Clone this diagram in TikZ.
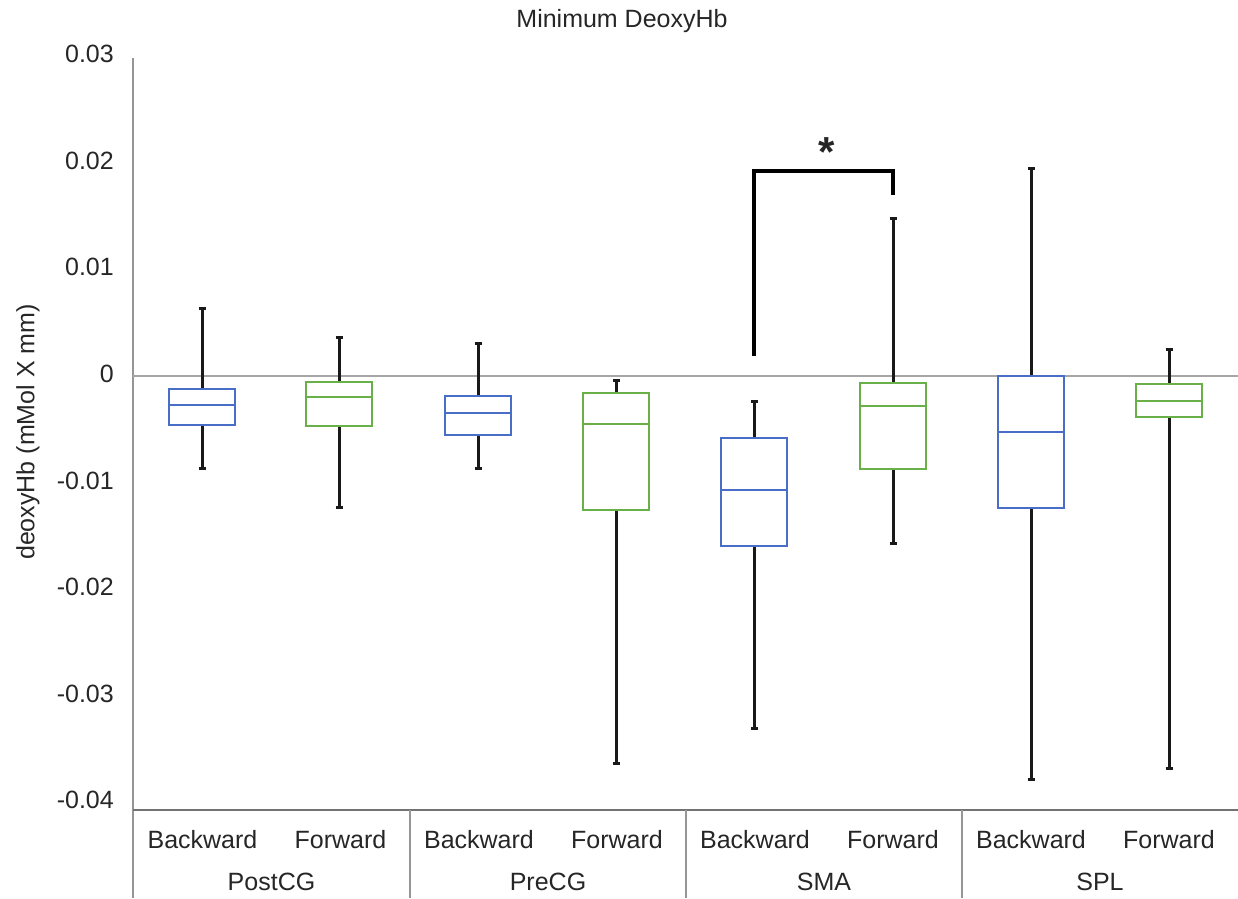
\documentclass[tikz,border=0pt]{standalone}
\usepackage{fontspec}
\setmainfont{Liberation Sans}
\definecolor{backblue}{RGB}{72,110,200}
\definecolor{forgreen}{RGB}{106,176,72}
\definecolor{axisgray}{RGB}{150,150,150}
\tikzset{
  lbl/.style={font=\fontsize{25}{29}\selectfont,inner sep=0pt,text=black!85},
  whisk/.style={line width=3pt,black!90},
  qbox/.style={line width=2.2pt,fill=white},
  axisline/.style={line width=1.5pt,axisgray},
}
\begin{document}
\begin{tikzpicture}[x=1pt,y=-1pt]
\useasboundingbox (0,0) rectangle (1238,898);
% title and axis label
\node[lbl,anchor=base] (title) at (622,27) {Minimum DeoxyHb};
\node[lbl,rotate=90] (ylab) at (28,432) {deoxyHb (mMol X mm)};
% axes
\draw[axisline] (133,58) -- (133,898);
\draw[axisline,line width=2.5pt,black!35] (133,376) -- (1238,376);
\draw[axisline,black!55] (133,810) -- (1238,810);
\foreach \dx in {410,686,962}
  \draw[axisline] (\dx,810) -- (\dx,898);
\foreach \v [count=\i from 0] in {0.03,0.02,0.01,0,-0.01,-0.02,-0.03,-0.04}
  \node[lbl,anchor=east] (tick\i) at (114,54+106.6*\i) {\v};
% boxes: centre / whisker top / box top / median / box bottom / whisker bottom / colour
\foreach \x/\wt/\qt/\md/\qb/\wb/\c in {
    202/308/389/405/425/468/backblue,
    339/337/382/397/426/507/forgreen,
    478/343/396/413/435/468/backblue,
    616/380/393/424/510/763/forgreen,
    754/401/438/490/546/728/backblue,
    893/218/383/406/469/543/forgreen,
    1031/168/376/432/508/779/backblue,
    1169/349/384/401/417/768/forgreen} {
  \draw[whisk] (\x,\wt) -- (\x,\qt) (\x,\qb) -- (\x,\wb);
  \draw[whisk] (\x-3.5,\wt) -- (\x+3.5,\wt) (\x-3.5,\wb) -- (\x+3.5,\wb);
  \draw[qbox,draw=\c] (\x-33,\qt) rectangle (\x+33,\qb);
  \draw[qbox,draw=\c] (\x-33,\md) -- (\x+33,\md);
}
% significance bracket
\draw[line width=3.2pt] (754,356) -- (754,171) -- (893,171) -- (893,195);
\node[lbl,font=\bfseries\fontsize{42}{44}\selectfont] (star) at (827,152) {*};
% category labels
\foreach \g/\gx in {PostCG/271.5,PreCG/548,SMA/824,SPL/1100} {
  \node[lbl] (bw\g) at (\gx-69,840) {Backward};
  \node[lbl] (fw\g) at (\gx+69,840) {Forward};
  \node[lbl] (grp\g) at (\gx,882) {\g};
}
\end{tikzpicture}
\end{document}
